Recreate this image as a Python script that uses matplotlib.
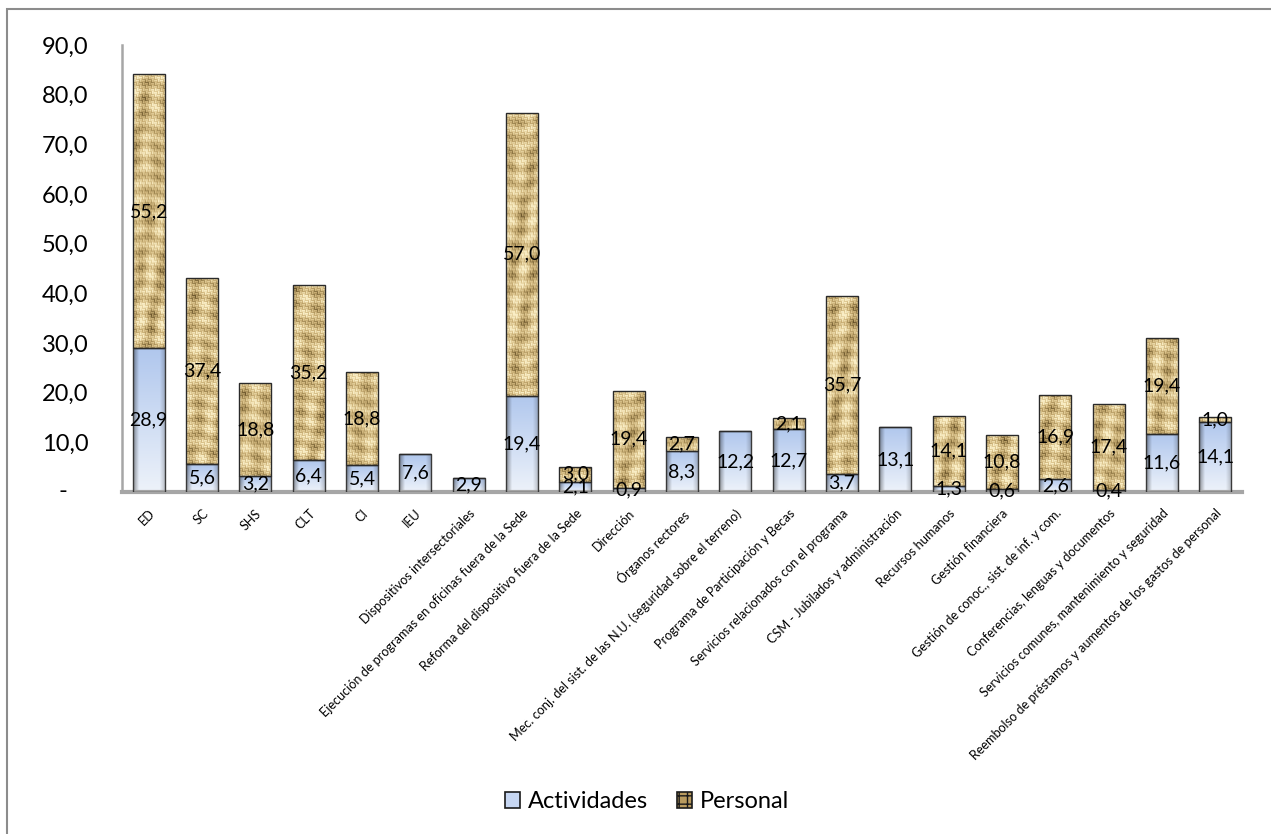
import numpy as np
import matplotlib
matplotlib.use("Agg")
import matplotlib.pyplot as plt
from matplotlib.patches import Patch, Rectangle
from matplotlib.colors import LinearSegmentedColormap
from matplotlib.ticker import FixedLocator, FuncFormatter

plt.rcParams['font.family'] = ['Lato', 'DejaVu Sans']

categories = [
    "ED", "SC", "SHS", "CLT", "CI", "IEU",
    "Dispositivos intersectoriales",
    "Ejecución de programas en oficinas fuera de la Sede",
    "Reforma del dispositivo fuera de la Sede",
    "Dirección",
    "Órganos rectores",
    "Mec. conj. del sist. de las N.U. (seguridad sobre el terreno)",
    "Programa de Participación y Becas",
    "Servicios relacionados con el programa",
    "CSM - Jubilados y administración",
    "Recursos humanos",
    "Gestión financiera",
    "Gestión de conoc., sist. de inf. y com.",
    "Conferencias, lenguas y documentos",
    "Servicios comunes, mantenimiento y seguridad",
    "Reembolso de préstamos y aumentos de los gastos de personal",
]
actividades = [28.9, 5.6, 3.2, 6.4, 5.4, 7.6, 2.9, 19.4, 2.1, 0.9, 8.3,
               12.2, 12.7, 3.7, 13.1, 1.3, 0.6, 2.6, 0.4, 11.6, 14.1]
personal = [55.2, 37.4, 18.8, 35.2, 18.8, 0.0, 0.0, 57.0, 3.0, 19.4, 2.7,
            0.0, 2.1, 35.7, 0.0, 14.1, 10.8, 16.9, 17.4, 19.4, 1.0]
series_names = ["Actividades", "Personal"]
y_ticks = [0, 10, 20, 30, 40, 50, 60, 70, 80, 90]

W, H, DPI = 1271, 834, 100
fig = plt.figure(figsize=(W / DPI, H / DPI), dpi=DPI)
ax = fig.add_axes([122 / W, 1 - 492 / H, (1242 - 122) / W, (492 - 45) / H])

n = len(categories)
x = np.arange(n)
bw = 0.6
ymax = 90

ax.set_xlim(-0.5, n - 0.5)
ax.set_ylim(0, ymax)

px_per_x = (1242 - 122) / n
px_per_y = (492 - 45) / ymax


def blue_fill(wpx, hpx):
    hpx = max(hpx, 2)
    wpx = max(wpx, 2)
    t = np.linspace(1, 0, hpx)[:, None]          # 1 at top
    u = np.linspace(0, 1, wpx)[None, :]
    top = np.array([0.69, 0.78, 0.93])
    bot = np.array([0.93, 0.95, 0.98])
    base = bot + (top - bot) * t[..., None]
    shade = 1 - 0.38 * np.clip(1 - u / 0.18, 0, 1) - 0.18 * np.clip((u - 0.85) / 0.15, 0, 1)
    img = base * shade[..., None]
    return np.clip(img, 0, 1)


weave_cmap = LinearSegmentedColormap.from_list(
    "burlap", ["#5a4520", "#98804c", "#c6ab72", "#e0ca94", "#faeec6"])


def burlap_fill(wpx, hpx, seed):
    hpx = max(hpx, 2)
    wpx = max(wpx, 2)
    i = np.arange(hpx)[:, None] + seed * 7
    j = np.arange(wpx)[None, :] + seed * 3
    ci, cj = i // 3, j // 3
    checker = (ci + cj) % 2
    prof = np.array([0.4, 0.95, 0.7])
    b = np.where(checker == 1, prof[i % 3], prof[j % 3])
    irregular = (0.16 * np.sin(0.41 * i + 0.9 * np.sin(0.13 * j))
                 + 0.14 * np.sin(0.27 * j + 0.05 * i)
                 + 0.12 * np.sin(0.07 * i) * np.cos(0.33 * j))
    v = 0.22 + 0.6 * b + irregular
    return np.clip(v, 0, 1)


def fill_bar(patch, img, cmap=None):
    x0, y0 = patch.get_x(), patch.get_y()
    w, h = patch.get_width(), patch.get_height()
    if h <= 0:
        return
    im = ax.imshow(img, extent=[x0, x0 + w, y0, y0 + h], aspect='auto',
                   cmap=cmap, interpolation='bilinear', zorder=2,
                   vmin=0, vmax=1)
    im.set_clip_path(patch)


bars_a = ax.bar(x, actividades, bw, facecolor='none', edgecolor='#3a3a3a',
                linewidth=1.0, zorder=3)
bars_p = ax.bar(x, personal, bw, bottom=actividades, facecolor='none',
                edgecolor='#2a2a2a', linewidth=1.0, zorder=3)

wpx = int(round(bw * px_per_x))
for k, (pa, pp) in enumerate(zip(bars_a, bars_p)):
    fill_bar(pa, blue_fill(wpx, int(round(pa.get_height() * px_per_y))))
    fill_bar(pp, burlap_fill(wpx, int(round(pp.get_height() * px_per_y)), k),
             cmap=weave_cmap)

ax.set_xlim(-0.5, n - 0.5)
ax.set_ylim(0, ymax)

# value labels centred in each segment
for xi, a, p in zip(x, actividades, personal):
    if a > 0:
        ax.text(xi, a / 2, f"{a:.1f}".replace('.', ','), ha='center',
                va='center', fontsize=14, color='black', zorder=5)
    if p > 0:
        ax.text(xi, a + p / 2, f"{p:.1f}".replace('.', ','), ha='center',
                va='center', fontsize=14, color='black', zorder=5)

# axes styling
for side in ('top', 'right'):
    ax.spines[side].set_visible(False)
ax.spines['left'].set_color('#a6a6a6')
ax.spines['left'].set_linewidth(1.8)
ax.spines['bottom'].set_color('#a6a6a6')
ax.spines['bottom'].set_linewidth(3.0)

ax.yaxis.set_major_locator(FixedLocator(y_ticks))
ax.yaxis.set_major_formatter(FuncFormatter(
    lambda v, _: '' if v == 0 else f"{v:.1f}".replace('.', ',')))
ax.tick_params(axis='y', length=0, pad=24, labelsize=17)
ax.text(-0.5 - 59 / px_per_x, 0, '-', transform=ax.transData, fontsize=17,
        ha='center', va='center')

ax.set_xticks(x)
ax.set_xticklabels(categories, rotation=45, ha='right',
                   rotation_mode='anchor', fontsize=9.1)
ax.tick_params(axis='x', length=0, pad=11)

# legend
handles = [Patch(facecolor='#c6d6f2', edgecolor='#1a1a1a', linewidth=1.2),
           Patch(facecolor='#b89a5e', edgecolor='#1a1a1a', linewidth=1.2,
                 hatch='++')]
fig.legend(handles, series_names, loc='center', ncol=2, frameon=False,
           bbox_to_anchor=(647 / W, 1 - 802 / H), fontsize=17,
           handlelength=0.64, handleheight=0.64, handletextpad=0.34,
           columnspacing=1.2)

# outer chart-area frame
fig.patches.append(Rectangle((7 / W, -0.02), 1.02, 1 - 9 / H + 0.02,
                             transform=fig.transFigure, fill=False,
                             edgecolor='#8c8c8c', linewidth=1.5))

fig.savefig("out.png", dpi=DPI)
